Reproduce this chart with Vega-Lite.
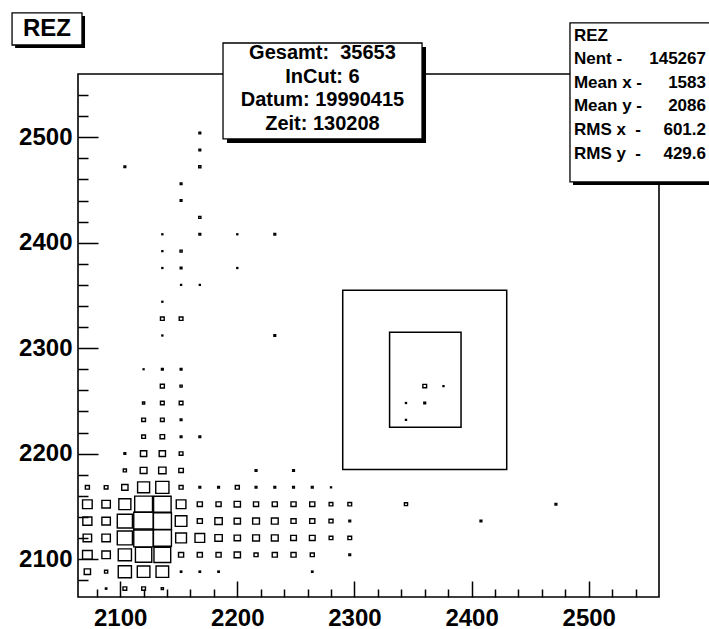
{
  "$schema": "https://vega.github.io/schema/vega-lite/v6.json",
  "autosize": "none",
  "width": 581,
  "height": 523,
  "padding": {"left": 78, "top": 74, "right": 50, "bottom": 32},
  "background": "white",
  "config": {"view": {"stroke": "black", "strokeWidth": 1.6}},
  "datasets": {
    "cells": [
      {"x":2088,"y":2072,"n":70},{"x":2104,"y":2072,"n":190},{"x":2120,"y":2072,"n":190},{"x":2136,"y":2072,"n":110},
      {"x":2072,"y":2088,"n":320},{"x":2088,"y":2088,"n":160},{"x":2104,"y":2088,"n":670},{"x":2120,"y":2088,"n":640},{"x":2136,"y":2088,"n":640},{"x":2152,"y":2088,"n":70},{"x":2168,"y":2088,"n":70},{"x":2184,"y":2088,"n":70},{"x":2264,"y":2088,"n":70},
      {"x":2072,"y":2104,"n":490},{"x":2088,"y":2104,"n":430},{"x":2104,"y":2104,"n":670},{"x":2120,"y":2104,"n":830},{"x":2136,"y":2104,"n":850},{"x":2152,"y":2104,"n":260},{"x":2168,"y":2104,"n":260},{"x":2184,"y":2104,"n":260},{"x":2200,"y":2104,"n":320},{"x":2216,"y":2104,"n":205},{"x":2232,"y":2104,"n":260},{"x":2248,"y":2104,"n":260},{"x":2264,"y":2104,"n":205},{"x":2296,"y":2104,"n":90},
      {"x":2072,"y":2120,"n":430},{"x":2088,"y":2120,"n":430},{"x":2104,"y":2120,"n":770},{"x":2120,"y":2120,"n":1000},{"x":2136,"y":2120,"n":925},{"x":2152,"y":2120,"n":550},{"x":2168,"y":2120,"n":490},{"x":2184,"y":2120,"n":375},{"x":2200,"y":2120,"n":320},{"x":2216,"y":2120,"n":345},{"x":2232,"y":2120,"n":345},{"x":2248,"y":2120,"n":290},{"x":2264,"y":2120,"n":290},{"x":2280,"y":2120,"n":190},{"x":2296,"y":2120,"n":190},
      {"x":2072,"y":2136,"n":460},{"x":2088,"y":2136,"n":430},{"x":2104,"y":2136,"n":770},{"x":2120,"y":2136,"n":1000},{"x":2136,"y":2136,"n":925},{"x":2152,"y":2136,"n":590},{"x":2168,"y":2136,"n":260},{"x":2184,"y":2136,"n":375},{"x":2200,"y":2136,"n":320},{"x":2216,"y":2136,"n":345},{"x":2232,"y":2136,"n":345},{"x":2248,"y":2136,"n":260},{"x":2264,"y":2136,"n":260},{"x":2280,"y":2136,"n":205},{"x":2296,"y":2136,"n":90},{"x":2408,"y":2136,"n":90},
      {"x":2072,"y":2152,"n":490},{"x":2088,"y":2152,"n":430},{"x":2104,"y":2152,"n":610},{"x":2120,"y":2152,"n":905},{"x":2136,"y":2152,"n":890},{"x":2152,"y":2152,"n":490},{"x":2168,"y":2152,"n":260},{"x":2184,"y":2152,"n":260},{"x":2200,"y":2152,"n":320},{"x":2216,"y":2152,"n":260},{"x":2232,"y":2152,"n":260},{"x":2248,"y":2152,"n":260},{"x":2264,"y":2152,"n":260},{"x":2280,"y":2152,"n":190},{"x":2296,"y":2152,"n":190},{"x":2344,"y":2152,"n":160},{"x":2472,"y":2152,"n":90},
      {"x":2072,"y":2168,"n":205},{"x":2088,"y":2168,"n":190},{"x":2104,"y":2168,"n":320},{"x":2120,"y":2168,"n":610},{"x":2136,"y":2168,"n":670},{"x":2152,"y":2168,"n":205},{"x":2168,"y":2168,"n":90},{"x":2184,"y":2168,"n":90},{"x":2200,"y":2168,"n":205},{"x":2216,"y":2168,"n":90},{"x":2232,"y":2168,"n":90},{"x":2248,"y":2168,"n":90},{"x":2264,"y":2168,"n":90},{"x":2280,"y":2168,"n":50},
      {"x":2104,"y":2184,"n":160},{"x":2120,"y":2184,"n":345},{"x":2136,"y":2184,"n":375},{"x":2152,"y":2184,"n":230},{"x":2216,"y":2184,"n":90},{"x":2248,"y":2184,"n":90},
      {"x":2104,"y":2200,"n":90},{"x":2120,"y":2200,"n":320},{"x":2136,"y":2200,"n":320},{"x":2152,"y":2200,"n":190},
      {"x":2120,"y":2216,"n":190},{"x":2136,"y":2216,"n":230},{"x":2152,"y":2216,"n":90},{"x":2168,"y":2216,"n":90},
      {"x":2120,"y":2232,"n":190},{"x":2136,"y":2232,"n":190},{"x":2152,"y":2232,"n":90},{"x":2344,"y":2232,"n":50},
      {"x":2120,"y":2248,"n":110},{"x":2136,"y":2248,"n":190},{"x":2152,"y":2248,"n":190},{"x":2344,"y":2248,"n":50},{"x":2360,"y":2248,"n":90},
      {"x":2136,"y":2264,"n":205},{"x":2152,"y":2264,"n":110},{"x":2360,"y":2264,"n":190},{"x":2376,"y":2264,"n":50},
      {"x":2120,"y":2280,"n":45},{"x":2136,"y":2280,"n":90},{"x":2152,"y":2280,"n":90},
      {"x":2136,"y":2312,"n":50},{"x":2232,"y":2312,"n":90},
      {"x":2136,"y":2328,"n":190},{"x":2152,"y":2328,"n":190},
      {"x":2136,"y":2344,"n":50},
      {"x":2152,"y":2360,"n":50},{"x":2168,"y":2360,"n":50},
      {"x":2136,"y":2376,"n":50},{"x":2152,"y":2376,"n":90},{"x":2200,"y":2376,"n":50},
      {"x":2136,"y":2392,"n":50},{"x":2152,"y":2392,"n":110},
      {"x":2136,"y":2408,"n":50},{"x":2168,"y":2408,"n":90},{"x":2200,"y":2408,"n":50},{"x":2232,"y":2408,"n":90},
      {"x":2168,"y":2424,"n":110},
      {"x":2152,"y":2440,"n":90},
      {"x":2152,"y":2456,"n":90},
      {"x":2104,"y":2472,"n":90},{"x":2168,"y":2472,"n":110},
      {"x":2168,"y":2488,"n":90},
      {"x":2168,"y":2504,"n":90}
    ],
    "cuts": [
      {"x":2290,"x2":2430,"y":2185,"y2":2355},
      {"x":2330,"x2":2391,"y":2225,"y2":2315}
    ],
    "shadows": [
      {"x":2010.3,"x2":2070.0,"y":2584.7,"y2":2615.1},
      {"x":2191.2,"x2":2361.1,"y":2494.6,"y2":2585.6},
      {"x":2486.6,"x2":2610.6,"y":2454.8,"y2":2605.6}
    ],
    "panes": [
      {"x":2007.7,"x2":2067.4,"y":2587.5,"y2":2617.9},
      {"x":2187.8,"x2":2357.7,"y":2498.4,"y2":2589.4},
      {"x":2484.0,"x2":2608.0,"y":2457.6,"y2":2608.4}
    ],
    "labels": [
      {"kind":"title","x":2037.5,"y":2602.7,"text":"REZ"},
      {"kind":"cut","x":2272.7,"y":2579.6,"text":"Gesamt:\u00a0 35653"},
      {"kind":"cut","x":2272.7,"y":2557.4,"text":"InCut: 6"},
      {"kind":"cut","x":2272.7,"y":2535.3,"text":"Datum: 19990415"},
      {"kind":"cut","x":2272.7,"y":2512.6,"text":"Zeit: 130208"},
      {"kind":"statl","x":2487.4,"y":2596.0,"text":"REZ"},
      {"kind":"statl","x":2487.4,"y":2573.8,"text":"Nent -"},
      {"kind":"statl","x":2487.4,"y":2551.5,"text":"Mean x -"},
      {"kind":"statl","x":2487.4,"y":2529.2,"text":"Mean y -"},
      {"kind":"statl","x":2487.4,"y":2506.9,"text":"RMS x\u00a0 -"},
      {"kind":"statl","x":2487.4,"y":2484.6,"text":"RMS y\u00a0 -"},
      {"kind":"statr","x":2600.1,"y":2573.8,"text":"145267"},
      {"kind":"statr","x":2600.1,"y":2551.5,"text":"1583"},
      {"kind":"statr","x":2600.1,"y":2529.2,"text":"2086"},
      {"kind":"statr","x":2600.1,"y":2506.9,"text":"601.2"},
      {"kind":"statr","x":2600.1,"y":2484.6,"text":"429.6"}
    ]
  },
  "encoding": {
    "x": {"field": "x", "type": "quantitative", "title": null,
      "scale": {"domain": [2064, 2560], "nice": false, "zero": false},
      "axis": {
        "values": [2080,2100,2120,2140,2160,2180,2200,2220,2240,2260,2280,2300,2320,2340,2360,2380,2400,2420,2440,2460,2480,2500,2520,2540],
        "labelExpr": "datum.value % 100 === 0 ? datum.label : ''",
        "format": "d",
        "domain": false, "grid": false,
        "tickColor": "black", "tickWidth": 1.5,
        "tickSize": {"condition": {"test": "datum.value % 100 === 0", "value": -16}, "value": -8},
        "labelFont": "Liberation Sans", "labelFontSize": 24, "labelFontWeight": "bold", "labelColor": "black",
        "labelPadding": 25, "labelFlush": false, "labelOverlap": false
      }
    },
    "y": {"field": "y", "type": "quantitative", "title": null,
      "scale": {"domain": [2064, 2560], "nice": false, "zero": false},
      "axis": {
        "values": [2080,2100,2120,2140,2160,2180,2200,2220,2240,2260,2280,2300,2320,2340,2360,2380,2400,2420,2440,2460,2480,2500,2520,2540],
        "labelExpr": "datum.value % 100 === 0 ? datum.label : ''",
        "format": "d",
        "domain": false, "grid": false,
        "tickColor": "black", "tickWidth": 1.5,
        "tickSize": {"condition": {"test": "datum.value % 100 === 0", "value": -20}, "value": -10},
        "labelFont": "Liberation Sans", "labelFontSize": 24, "labelFontWeight": "bold", "labelColor": "black",
        "labelPadding": 26, "labelFlush": false, "labelOverlap": false
      }
    }
  },
  "layer": [
    {
      "data": {"name": "cells"},
      "mark": {"type": "point", "shape": "M-1.1,-1H1.1V1H-1.1Z", "filled": false, "stroke": "black", "strokeWidth": 1.4, "opacity": 1},
      "encoding": {
        "size": {"field": "n", "type": "quantitative", "legend": null,
          "scale": {"type": "pow", "exponent": 2, "domain": [0, 1000], "range": [0, 320]}}
      }
    },
    {
      "data": {"name": "cuts"},
      "mark": {"type": "rect", "fill": null, "fillOpacity": 0, "stroke": "black", "strokeWidth": 1.5},
      "encoding": {"x2": {"field": "x2"}, "y2": {"field": "y2"}}
    },
    {
      "data": {"name": "shadows"},
      "mark": {"type": "rect", "fill": "black", "stroke": null},
      "encoding": {"x2": {"field": "x2"}, "y2": {"field": "y2"}}
    },
    {
      "data": {"name": "panes"},
      "mark": {"type": "rect", "fill": "white", "stroke": "black", "strokeWidth": 1.3},
      "encoding": {"x2": {"field": "x2"}, "y2": {"field": "y2"}}
    },
    {
      "data": {"name": "labels"},
      "transform": [{"filter": "datum.kind === 'title'"}],
      "mark": {"type": "text", "font": "Liberation Sans", "fontWeight": "bold", "fontSize": 24, "align": "center", "baseline": "middle", "color": "black"},
      "encoding": {"text": {"field": "text"}}
    },
    {
      "data": {"name": "labels"},
      "transform": [{"filter": "datum.kind === 'cut'"}],
      "mark": {"type": "text", "font": "Liberation Sans", "fontWeight": "bold", "fontSize": 20, "align": "center", "baseline": "middle", "color": "black"},
      "encoding": {"text": {"field": "text"}}
    },
    {
      "data": {"name": "labels"},
      "transform": [{"filter": "datum.kind === 'statl'"}],
      "mark": {"type": "text", "font": "Liberation Sans", "fontWeight": "bold", "fontSize": 17, "align": "left", "baseline": "middle", "color": "black"},
      "encoding": {"text": {"field": "text"}}
    },
    {
      "data": {"name": "labels"},
      "transform": [{"filter": "datum.kind === 'statr'"}],
      "mark": {"type": "text", "font": "Liberation Sans", "fontWeight": "bold", "fontSize": 17, "align": "right", "baseline": "middle", "color": "black"},
      "encoding": {"text": {"field": "text"}}
    }
  ]
}
